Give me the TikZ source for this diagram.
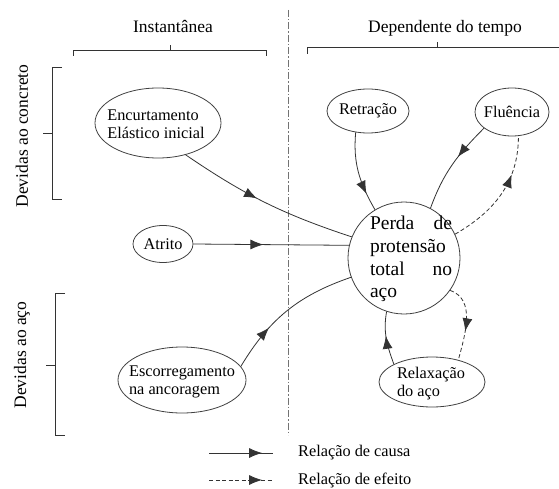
\documentclass[tikz,border=0pt]{standalone}
\usepackage{fontspec}
\setmainfont{Liberation Serif}
\usetikzlibrary{shapes.geometric,arrows.meta,decorations.markings}
\tikzset{
  ln/.style={draw=black!80, line width=0.8pt},
  ell/.style={ellipse, draw=black!75, line width=0.8pt, inner sep=0pt},
  lbl/.style={font=\fontsize{16.3}{18}\selectfont, align=left, inner sep=0pt, text=black},
  hd/.style={font=\fontsize{17.5}{20}\selectfont, inner sep=0pt, text=black},
  midarrow/.style={postaction={decorate}, decoration={markings, mark=at position #1 with {\arrow{Latex[length=13pt,width=10pt]}}}},
  dsh/.style={dash pattern=on 4pt off 2.5pt},
}
\begin{document}
\begin{tikzpicture}[x=1pt,y=1pt]
\useasboundingbox (0,0) rectangle (559,488);
% headings
\node[hd] (inst) at (173,462) {Instantânea};
\node[hd] (dep) at (445,460) {Dependente do tempo};
\node[hd, rotate=90] (dconc) at (22,352) {Devidas ao concreto};
\node[hd, rotate=90] (daco) at (22,133) {Devidas ao aço};
% brackets
\draw[ln] (73,432) -- (73,438) -- (266,438) -- (266,432);
\draw[ln] (170,438) -- (170,443);
\draw[ln] (307,434) -- (307,441) -- (559,441);
\draw[ln] (437,441) -- (437,446);
\draw[ln] (62,421) -- (52,421) -- (52,289) -- (62,289);
\draw[ln] (52,355) -- (43,355);
\draw[ln] (65,195) -- (55,195) -- (55,53) -- (65,53);
\draw[ln] (55,123) -- (46,123);
% divider
\draw[black!55, line width=0.8pt, dash pattern=on 7pt off 2pt on 1.5pt off 2pt] (288,478) -- (288,53);
% nodes
\node[ell, minimum width=126pt, minimum height=70pt] (enc) at (158,365) {};
\node[lbl] (encT) at (156,364) {Encurtamento\\Elástico inicial};
\node[ell, minimum width=60pt, minimum height=37pt] (atr) at (163,244) {};
\node[lbl] (atrT) at (163,244) {Atrito};
\node[ell, minimum width=128pt, minimum height=66pt] (esc) at (182,108) {};
\node[lbl] (escT) at (182,106) {Escorregamento\\na ancoragem};
\node[ell, minimum width=82pt, minimum height=44pt] (ret) at (368,377) {};
\node[lbl] (retT) at (368,377) {Retração};
\node[ell, minimum width=74pt, minimum height=48pt] (flu) at (512,376) {};
\node[lbl] (fluT) at (512,376) {Fluência};
\node[ell, minimum width=106pt, minimum height=50pt] (rel) at (432,106) {};
\node[lbl] (relT) at (431,104) {Relaxação\\do aço};
\node[circle, draw=black!75, line width=0.8pt, minimum size=112pt, inner sep=0pt] (circ) at (404,230) {};
\node[font=\fontsize{19.5}{22.7}\selectfont, align=left, inner sep=0pt, text=black] (circT) at (411,229)
  {\hbox to 82pt{Perda\hfill de}\\protensão\\\hbox to 82pt{total\hfill no}\\aço};
% connectors
\draw[ln, midarrow=0.45] (enc.-49) to[bend right=8] (circ.158);
\draw[ln, midarrow=0.45] (atr.east) -- (circ.167);
\draw[ln, midarrow=0.33] (esc.13) to[bend left=20] (circ.200);
\draw[ln, midarrow=0.78] (ret.-120) to[out=-95,in=120] (circ.121);
\draw[ln, midarrow=0.4] (flu.-150) to[out=-135,in=70] (circ.62);
\draw[ln, dsh, midarrow=0.68] (circ.25) to[out=30,in=-90] (flu.-75);
\draw[ln, midarrow=0.55] (rel.155) to[out=110,in=-100] (circ.-108);
\draw[ln, dsh, midarrow=0.62] (circ.-35) to[out=-20,in=75] (rel.40);
% legend
\coordinate (la1) at (209,35);
\coordinate (la2) at (273,35);
\coordinate (lb1) at (209,8);
\coordinate (lb2) at (273,8);
\draw[ln, midarrow=0.83] (la1) -- (la2);
\draw[ln, dsh, midarrow=0.83] (lb1) -- (lb2);
\node[lbl, anchor=west] (lg1) at (298,35) {Relação de causa};
\node[lbl, anchor=west] (lg2) at (298,8) {Relação de efeito};
\end{tikzpicture}
\end{document}
